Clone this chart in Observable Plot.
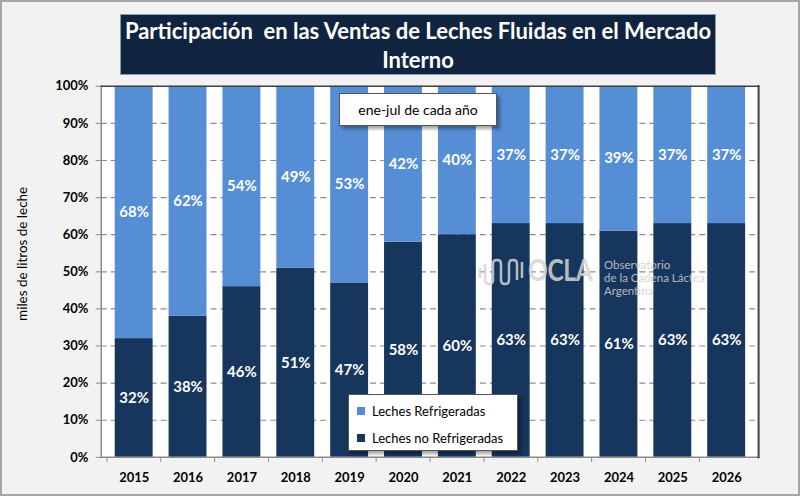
<!DOCTYPE html>
<html>
<head>
<meta charset="utf-8">
<script src="https://cdn.jsdelivr.net/npm/d3@7"></script>
<script src="https://cdn.jsdelivr.net/npm/@observablehq/plot@0.6"></script>
<style>
  html, body { margin: 0; padding: 0; background: #ffffff; }
  #wrap { position: relative; width: 800px; height: 496px; background: #f2f2f2; box-sizing: border-box; border: 2px solid #a6a6a6; overflow: hidden; font-family: Lato, "Open Sans", sans-serif; }
  #chart { position: absolute; left: -2px; top: -2px; }
  #title { position: absolute; left: 118px; top: 12px; width: 596px; height: 61px; background: #10243f; border: 1px solid #8a9ab0; color: #fff; font-weight: bold; font-size: 22px; line-height: 29px; text-align: center; display: flex; align-items: center; justify-content: center; box-sizing: border-box; }
  #note { position: absolute; left: 337px; top: 91px; width: 158px; height: 33px; background: #fff; border: 1px solid #555; box-shadow: 3px 3px 3px rgba(0,0,0,0.35); font-size: 14px; display: flex; align-items: center; justify-content: center; box-sizing: border-box; }
  #legend { position: absolute; left: 346px; top: 392px; width: 170px; height: 57px; background: #fff; border: 1px solid #555; box-shadow: 3px 3px 3px rgba(0,0,0,0.35); font-size: 13px; box-sizing: border-box; }
  .li { position: absolute; left: 8px; display: flex; align-items: center; }
  .sw { width: 8px; height: 8px; margin-right: 7px; }
  #wm { position: absolute; left: 476px; top: 252px; pointer-events: none; opacity: 0.85; }
  #wm .big { position: absolute; left: 50px; top: -3px; font-size: 30px; font-weight: bold; color: #d4d4d4; font-family: Lato, sans-serif; letter-spacing: -0.5px; transform: scaleX(0.82); transform-origin: left center; }
  #wm .small { position: absolute; left: 126px; top: 4px; font-size: 11.5px; line-height: 13px; color: #cfcfcf; white-space: nowrap; font-family: Lato, sans-serif; }
</style>
</head>
<body>
<div id="wrap">
  <div id="chart"></div>
  <div id="title">Participación&nbsp; en las Ventas de Leches Fluidas en el Mercado<br>Interno</div>
  <div id="note">ene-jul de cada año</div>
  <div id="wm">
    <svg width="48" height="32" style="position:absolute;left:0;top:2px">
      <path d="M2 12 V22 M7 8 V24 Q7 28 11 28 Q15 28 15 24 V8 Q15 4 19 4 Q23 4 23 8 V24 Q23 28 27 28 Q31 28 31 24 V8 Q31 4 35 4 Q39 4 39 8 V24 M44 6 V22" fill="none" stroke="#d4d4d4" stroke-width="2.5"/>
    </svg>
    <div class="big">OCLA</div>
    <div class="small">Observatorio<br>de la Cadena Láctea<br>Argentina</div>
  </div>
  <div id="legend">
    <div class="li" style="top:8px"><div class="sw" style="background:#558ed5"></div>Leches Refrigeradas</div>
    <div class="li" style="top:35px"><div class="sw" style="background:#17365d"></div>Leches no Refrigeradas</div>
  </div>
</div>
<script>
const years = ["2015","2016","2017","2018","2019","2020","2021","2022","2023","2024","2025","2026"];
const noRefrigeradas = [32, 38, 46, 51, 47, 58, 60, 63, 63, 61, 63, 63];
const refrigeradas   = [68, 62, 54, 49, 53, 42, 40, 37, 37, 39, 37, 37];
const seriesNames = ["Leches no Refrigeradas", "Leches Refrigeradas"];
const seriesColors = ["#17365d", "#558ed5"];
const yTicks = [0, 10, 20, 30, 40, 50, 60, 70, 80, 90, 100];

const data = [];
years.forEach((y, i) => {
  data.push({year: y, series: seriesNames[0], value: noRefrigeradas[i]});
  data.push({year: y, series: seriesNames[1], value: refrigeradas[i]});
});

const W = 800, ML = 101, MR = 40;
const paddingInner = 0.305, paddingOuter = 0.174;
const step = (W - ML - MR) / (years.length - paddingInner + 2 * paddingOuter);

const chart = Plot.plot({
  width: W,
  height: 496,
  marginLeft: ML,
  marginRight: MR,
  marginTop: 86,
  marginBottom: 38,
  style: {background: "transparent", fontFamily: "Lato, 'Open Sans', sans-serif", color: "#000"},
  x: {domain: years, paddingInner, paddingOuter, label: null},
  y: {domain: [0, 100], label: null},
  color: {domain: seriesNames, range: seriesColors},
  marks: [
    Plot.frame({fill: "white", stroke: null}),
    Plot.gridY(yTicks.slice(1, -1), {stroke: "#8c8c8c", strokeOpacity: 1, strokeDasharray: "6,4", strokeWidth: 1.2}),
    Plot.barY(data, {x: "year", y: "value", fill: "series", order: seriesNames}),
    Plot.text(data, Plot.stackY({x: "year", y: "value", z: "series", order: seriesNames,
      text: d => d.value + "%", fill: "white", fontWeight: "bold", fontSize: 15})),
    Plot.frame({anchor: "left", stroke: "#8c8c8c", strokeWidth: 1.5}),
    Plot.frame({anchor: "bottom", stroke: "#8c8c8c", strokeWidth: 1.5}),
    Plot.frame({anchor: "top", stroke: "#404040", strokeWidth: 1.5}),
    Plot.frame({anchor: "right", stroke: "#404040", strokeWidth: 2}),
    Plot.axisY(yTicks, {tickFormat: d => d + "%", tickSize: 5, tickPadding: 8, fontWeight: "bold", fontSize: 13, stroke: "#8c8c8c", fill: "#000", label: null}),
    Plot.axisX({tickSize: 5, tickFormat: () => "", dx: -step / 2, stroke: "#8c8c8c"}),
    Plot.axisX({tickSize: 0, tickPadding: 15, fontWeight: "bold", fontSize: 13, fill: "#000", label: null}),
    Plot.text(["miles de litros de leche"], {frameAnchor: "left", textAnchor: "middle", dx: -79, dy: -18, rotate: -90, fontSize: 13.5, fill: "#000", text: d => d})
  ]
});
document.getElementById("chart").appendChild(chart);
</script>
</body>
</html>
